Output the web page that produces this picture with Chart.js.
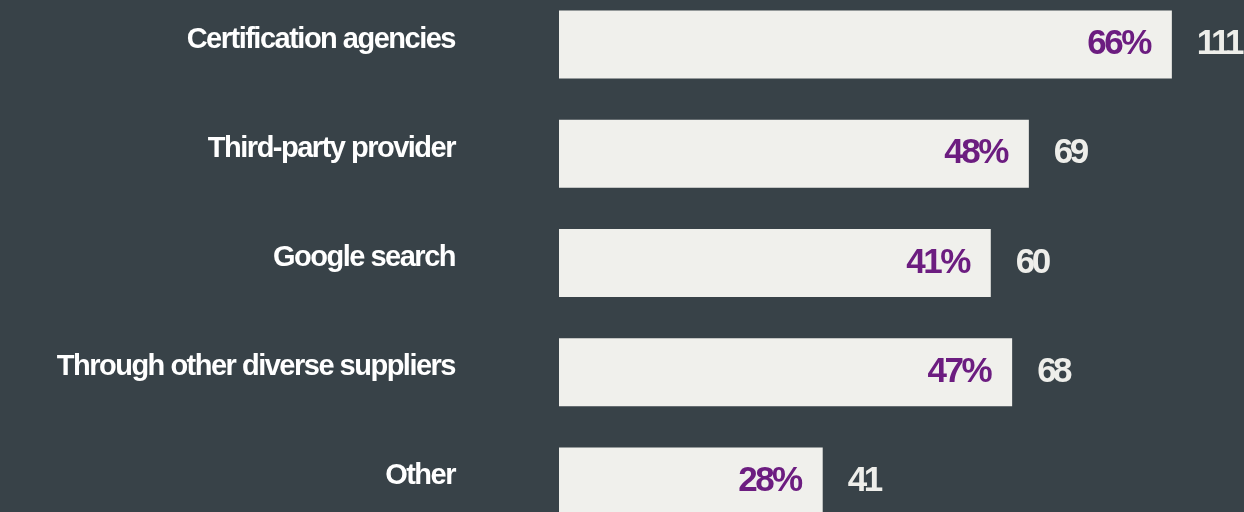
<!DOCTYPE html>
<html>
<head>
<meta charset="utf-8">
<script src="https://cdn.jsdelivr.net/npm/chart.js@4/dist/chart.umd.min.js"></script>
<style>
    html, body { margin: 0; padding: 0; background: #384248; overflow: hidden; }
    #wrap { position: absolute; left: 0; top: -10px; width: 1244px; height: 546px; }
</style>
</head>
<body>
<div id="wrap"><canvas id="chart1"></canvas></div>
<script>
// 데이터
const labels = [
    "Certification agencies",
    "Third-party provider",
    "Google search",
    "Through other diverse suppliers",
    "Other"
];
// bar lengths as drawn in the picture (not quite in line with the percents)
const barLengths = [66, 50.6, 46.5, 48.8, 28.4];
const percents = ["66%", "48%", "41%", "47%", "28%"];
const counts = [111, 69, 60, 68, 41];

const FONT = "'Liberation Sans', Arial, sans-serif";

const textPlugin = {
    id: "textPlugin",
    afterDatasetsDraw(chart) {
        const c = chart.ctx;
        const meta = chart.getDatasetMeta(0);
        c.save();
        c.textBaseline = "middle";
        meta.data.forEach((bar, i) => {
            const y = bar.y;
            // category label
            c.font = "bold 29px " + FONT;
            c.letterSpacing = "-1.5px";
            c.fillStyle = "#ffffff";
            c.textAlign = "right";
            c.fillText(labels[i], 455, y - 5);
            // percent inside the bar
            c.font = "bold 35px " + FONT;
            c.letterSpacing = "-2.5px";
            c.fillStyle = "#6c1d80";
            c.fillText(percents[i], bar.x - 22, y);
            // count outside the bar
            c.letterSpacing = "-3.5px";
            c.fillStyle = "#eeeeea";
            c.textAlign = "left";
            c.fillText(String(counts[i]), bar.x + 25, y);
        });
        c.restore();
    }
};

new Chart(document.getElementById("chart1"), {
    type: "bar",
    data: {
        labels: labels,
        datasets: [
            {
                data: barLengths,
                backgroundColor: "#f0f0ec",
                borderWidth: 0,
                barPercentage: 0.623,
                categoryPercentage: 1
            }
        ]
    },
    options: {
        indexAxis: "y",
        responsive: true,
        maintainAspectRatio: false,
        animation: false,
        layout: { padding: { left: 559, right: 35, top: 0, bottom: 0 } },
        scales: {
            x: { min: 0, max: 70, display: false },
            y: { display: false }
        },
        plugins: {
            legend: { display: false },
            tooltip: { enabled: false }
        }
    },
    plugins: [textPlugin]
});
</script>
</body>
</html>
